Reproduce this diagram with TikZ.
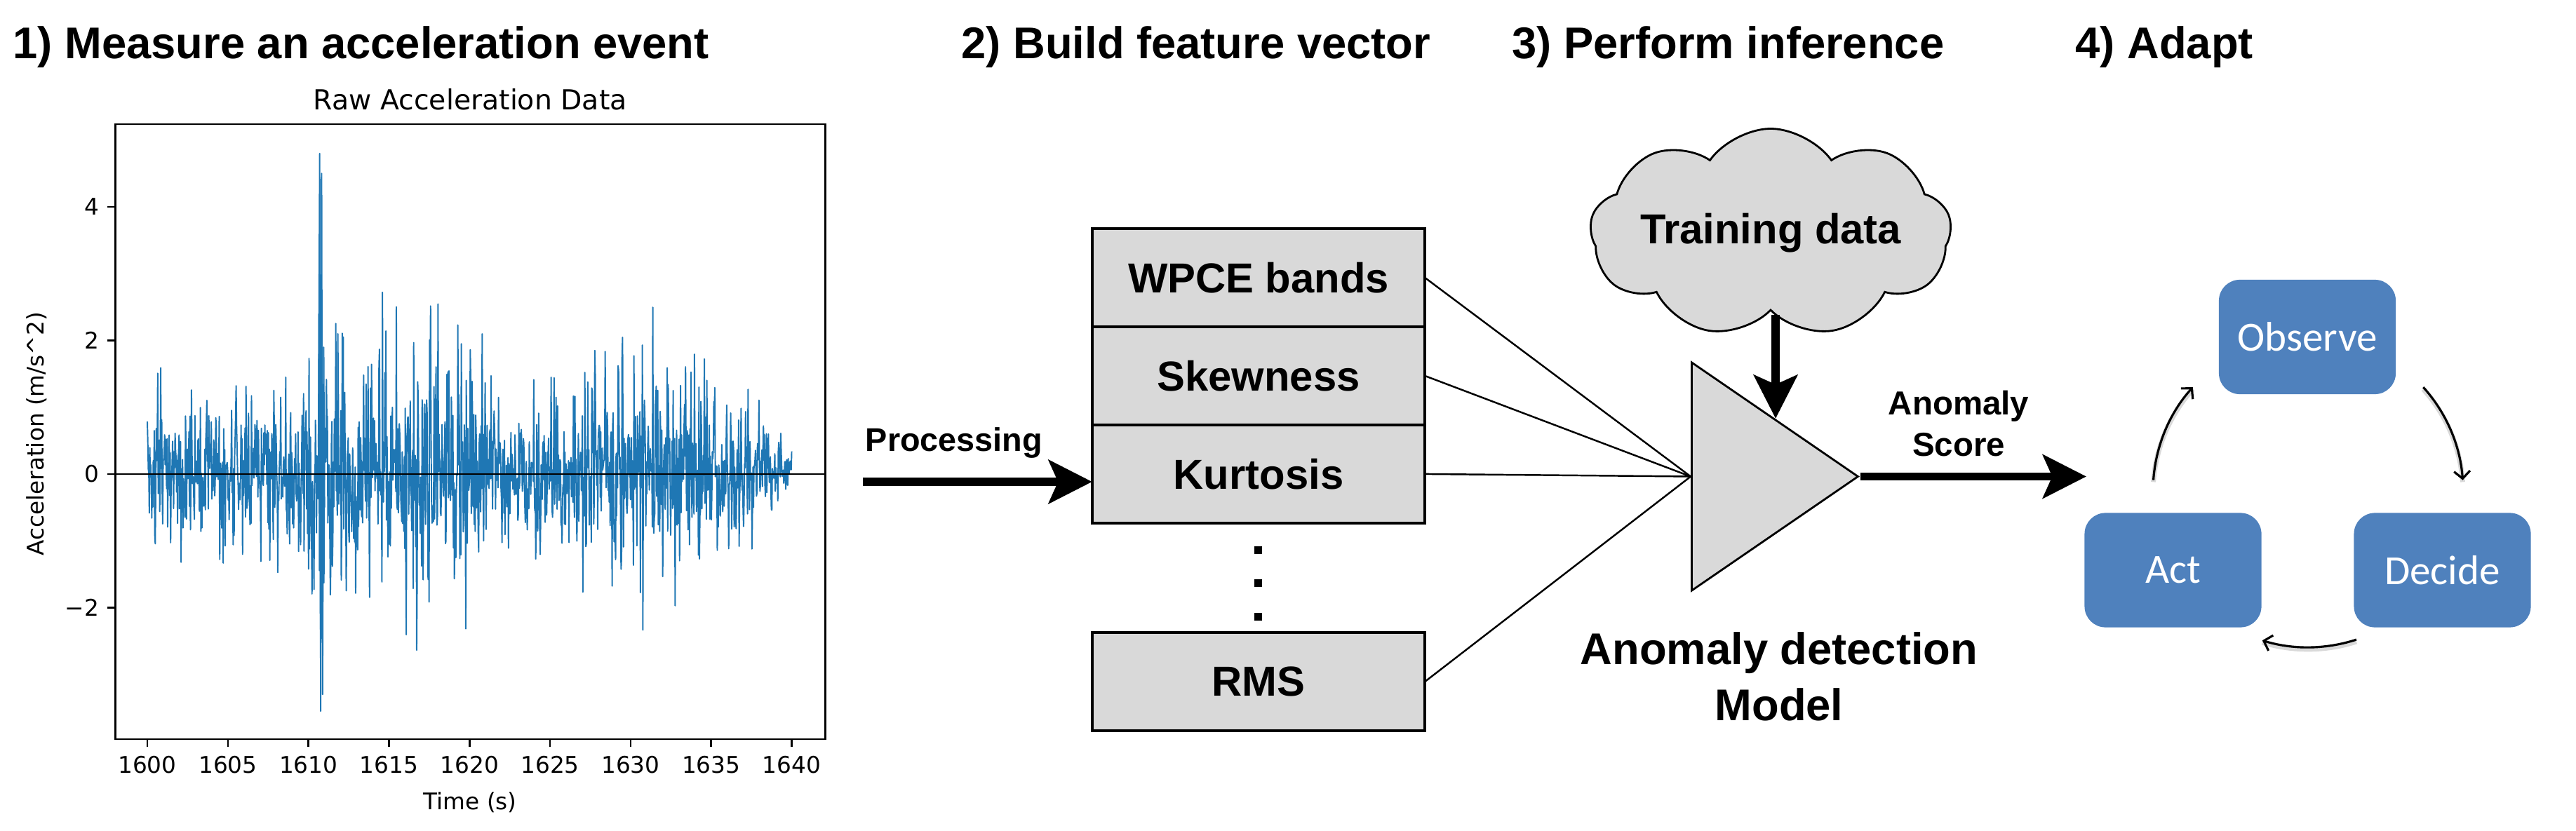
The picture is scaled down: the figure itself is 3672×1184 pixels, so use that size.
\documentclass[tikz,border=0pt]{standalone}
\usepackage{fontspec}
\setmainfont{Liberation Sans}
\newfontfamily\plotfont{DejaVu Sans}
\newfontfamily\cyclefont{Carlito}
\usetikzlibrary{arrows.meta,positioning,shapes.geometric,shapes.symbols}

\definecolor{featgray}{HTML}{D9D9D9}
\definecolor{mplblue}{HTML}{1F77B4}
\definecolor{cycblue}{HTML}{4F81BD}

\begin{document}
\begin{tikzpicture}[
  x=0.01cm, y=0.01cm,
  head/.style={
    anchor=base west,
    inner sep=0pt,
    font=\fontsize{18}{22}\selectfont\bfseries
  },
  feat/.style={
    draw=black,
    line width=1pt,
    fill=featgray,
    outer sep=0pt,
    inner sep=0pt,
    minimum width=134.9pt,
    minimum height=39.8pt,
    font=\fontsize{17}{20}\selectfont\bfseries
  },
  lbl/.style={inner sep=0pt, align=center},
  bigarrow/.style={-{Stealth[length=17.6pt, width=17.6pt, inset=3.8pt]}, line width=3.4pt},
  link/.style={line width=0.7pt},
  model/.style={
    isosceles triangle,
    isosceles triangle stretches,
    draw,
    line width=0.8pt,
    fill=featgray,
    minimum width=92.5pt,
    minimum height=67.4pt,
    inner sep=0pt
  },
  cloudy/.style={
    cloud, cloud puffs=9, cloud puff arc=110, aspect=2.3,
    draw,
    line width=0.8pt,
    fill=featgray,
    inner xsep=-2pt,
    inner ysep=0pt,
    font=\fontsize{17}{20}\selectfont\bfseries
  },
  cyclebox/.style={
    fill=cycblue,
    rounded corners=8.5pt,
    minimum width=71.7pt,
    minimum height=46.4pt,
    text=white,
    font=\fontsize{16.8}{20}\cyclefont
  },
  cycarrow/.style={-{Straight Barb[length=3pt, width=6.5pt]}, line width=0.9pt,
    preaction={draw=black!15, line width=2pt, arrows=-, transform canvas={yshift=-0.8pt}}},
  axisline/.style={line width=0.75pt},
  signal/.style={draw=mplblue, line width=0.55pt, line join=round},
  ticklbl/.style={inner sep=0pt, font=\fontsize{9.3}{11}\plotfont}
]

\useasboundingbox (0,0) rectangle (3672,1184);

\node[head] (h1) at (18,1100) {1) Measure an acceleration event};
\node[head] (h2) at (1370,1100) {2) Build feature vector};
\node[head] (h3) at (2155,1100) {3) Perform inference};
\node[head] (h4) at (2958,1100) {4) Adapt};

\begin{scope}[shift={(210,508)}, x=0.2295cm, y=0.952cm,
  declare function={env(\t)=(\t<9.5)*0.6+and(\t>=9.5,\t<21)*0.9+and(\t>=21,\t<27)*0.55+and(\t>=27,\t<33)*0.75+(\t>=33)*(0.75-0.075*(\t-33));}]
  \pgfmathsetseed{7}
  \draw[signal] plot[domain=0:40, samples=1300] (\x,{env(\x)*(rand+rand+rand)*(0.45+rnd)});
  \draw[signal] (10.62,0.4) -- (10.7,4.8) -- (10.76,-3.55) -- (10.82,4.5) -- (10.88,-3.3) -- (10.95,1.9) -- (11.0,-0.5);
  \draw[line width=0.5pt] (-1.98,0) -- (42.09,0);
  \draw[axisline] (-1.98,-3.97) rectangle (42.09,5.24);
  \foreach \t/\lab in {0/1600,5/1605,10/1610,15/1615,20/1620,25/1625,30/1630,35/1635,40/1640} {
    \draw[axisline] (\t,-3.97) -- ++(0,-3.2pt);
    \node[ticklbl, anchor=north] (xt\lab) at ([yshift=-6.7pt]\t,-3.97) {\lab};
  }
  \foreach \v/\lab/\n in {-2/−2/1,0/0/2,2/2/3,4/4/4} {
    \draw[axisline] (-1.98,\v) -- ++(-3.2pt,0);
    \node[ticklbl, anchor=east] (yt\n) at ([xshift=-6.5pt]-1.98,\v) {\lab};
  }
  \node[ticklbl, anchor=base, font=\fontsize{11.2}{13}\plotfont] (ptitle) at (20.04,5.45) {Raw Acceleration Data};
  \node[ticklbl] (xlabel) at (20.04,-4.92) {Time (s)};
  \node[ticklbl, rotate=90] (ylabel) at (-6.88,0.6) {Acceleration (m/s\textasciicircum 2)};
\end{scope}

\node[feat] (wpce) at (1794,788) {WPCE bands};
\node[feat, below=0pt of wpce] (skew) {Skewness};
\node[feat, below=0pt of skew] (kurt) {Kurtosis};
\node[feat] (rms) at (1794,212) {RMS};
\foreach \y in {400,353,305}
  \fill (1793,\y) +(-5.5,-5.5) rectangle +(5.5,5.5);

\coordinate (procstart) at (1230,497);
\draw[bigarrow] (procstart) -- (procstart -| kurt.west);
\node[lbl, anchor=base, font=\fontsize{13.3}{16}\selectfont\bfseries] (proc) at (1360,541) {Processing};

\node[model, anchor=lower side] (model) at (2410,504.5) {};
\foreach \f in {wpce,skew,kurt,rms}
  \draw[link] (\f.east) -- (model.lower side);

\node[cloudy] (train) at (2524,852) {Training data};
\draw[bigarrow, shorten <=1.5pt] (model.left side |- train.south) -- (model.left side);

\coordinate (scoreend) at (2974,504.5);
\draw[bigarrow] (model.apex) -- (scoreend);
\node[lbl, font=\fontsize{13.5}{16.8}\selectfont\bfseries] (score) at (2792,580) {Anomaly\\Score};
\node[lbl, font=\fontsize{18}{22.8}\selectfont\bfseries] (mlabel) at (2536,219) {Anomaly detection\\Model};

\node[cyclebox] (observe) at (3289,703.5) {Observe};
\node[cyclebox] (act) at (3097.5,371) {Act};
\node[cyclebox] (decide) at (3481.5,371) {Decide};
\coordinate (hub) at (3290,484);
\draw[cycarrow] ([shift={(176:221)}]hub) arc[start angle=176, end angle=138, radius=221];
\draw[cycarrow] ([shift={(42:221)}]hub) arc[start angle=42, end angle=4, radius=221];
\draw[cycarrow] ([shift={(-72:223)}]hub) arc[start angle=-72, end angle=-107, radius=223];

\end{tikzpicture}
\end{document}
